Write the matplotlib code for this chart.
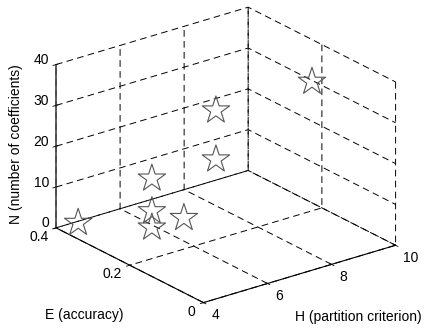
import matplotlib
matplotlib.use("Agg")
import matplotlib.pyplot as plt

# Measured configurations: partition criterion H, accuracy E, number of coefficients N
H_values = [4, 4, 4, 4, 5, 6, 6, 9]
E_values = [0.34, 0.14, 0.14, 0.14, 0.14, 0.14, 0.14, 0.14]
N_values = [4, 24, 16, 12, 12, 36, 24, 36]

H_ticks = [4, 6, 8, 10]
E_ticks = [0, 0.2, 0.4]
E_tick_labels = ["0", "0.2", "0.4"]
N_ticks = [0, 10, 20, 30, 40]

plt.rcParams["font.family"] = ["Liberation Sans", "DejaVu Sans"]
plt.rcParams["font.size"] = 10
plt.rcParams["lines.scale_dashes"] = False
plt.rcParams["grid.color"] = "black"
plt.rcParams["grid.linewidth"] = 0.7
plt.rcParams["grid.linestyle"] = (0, (4.8, 3.1))

fig = plt.figure(figsize=(4.24, 3.31), dpi=100)
ax = fig.add_axes([0.1317, 0.0185, 0.7807, 1.0], projection="3d")
ax.set_proj_type("ortho")
ax.view_init(elev=22.9, azim=-127.5)
ax.set_box_aspect((1, 1, 0.732), zoom=1.131)

ax.scatter(H_values, E_values, N_values, marker="*", s=430,
           facecolors="none", edgecolors="#555555", linewidths=0.8,
           depthshade=False)

ax.set_xlim(4, 10)
ax.set_ylim(0, 0.4)
ax.set_zlim(0, 40)
ax.set_xticks(H_ticks)
ax.set_yticks(E_ticks)
ax.set_yticklabels(E_tick_labels)
ax.set_zticks(N_ticks)

ax.tick_params(axis="x", pad=-1.45)
ax.tick_params(axis="y", pad=-3.0)
ax.tick_params(axis="z", pad=-5.4)
for lbl in ax.get_xticklabels():
    lbl.set_ha("left")
    lbl.set_va("center")
for lbl in ax.get_yticklabels():
    lbl.set_ha("right")
    lbl.set_va("center")
for lbl in ax.get_zticklabels():
    lbl.set_ha("right")
    lbl.set_va("baseline")

for axis in (ax.xaxis, ax.yaxis, ax.zaxis):
    axis.set_pane_color((1, 1, 1, 0))
    axis.line.set_color("black")
    axis.line.set_linewidth(0.8)
    axis._axinfo["tick"]["color"] = "black"
    axis._axinfo["tick"]["linewidth"] = {True: 0.6, False: 0.6}
ax.zaxis.line.set_color("#444444")
ax.zaxis.line.set_linewidth(1.2)

# Axis titles written horizontally below the box, vertical on the left
fig.text(0.846, 0.0423, "H (partition criterion)", ha="center", va="center")
fig.text(0.1977, 0.0483, "E (accuracy)", ha="center", va="center")
fig.text(0.0377, 0.5634, "N (number of coefficients)", ha="center",
         va="center", rotation=90)

fig.savefig("out.png", dpi=100)
